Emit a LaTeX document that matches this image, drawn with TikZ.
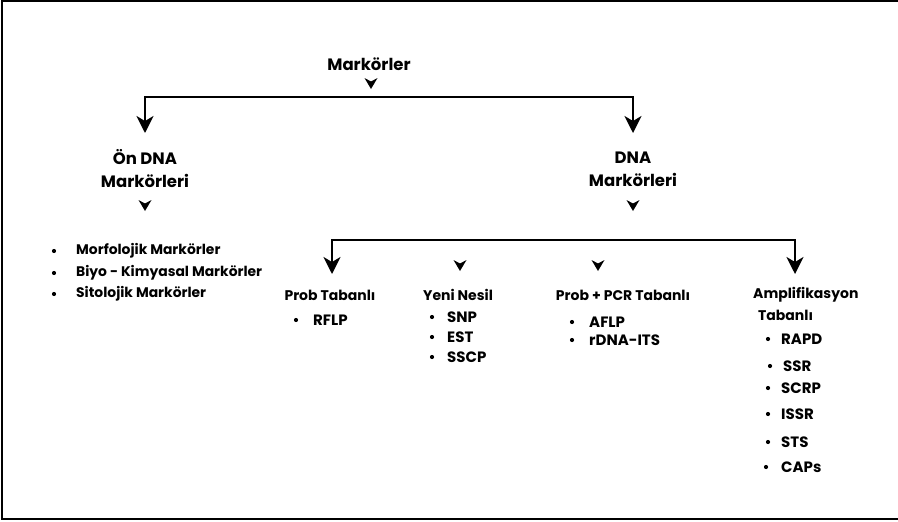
\documentclass[tikz,border=0pt]{standalone}
\usepackage{fontspec}
\setmainfont{Poppins}
\usetikzlibrary{arrows.meta}
\begin{document}
\begin{tikzpicture}[x=1pt,y=-1pt,
  conn/.style={line width=2pt, >={Stealth[length=17pt,width=17pt,inset=5pt]}},
  top/.style={font=\fontsize{16.5}{23}\selectfont\bfseries, align=center, inner sep=0pt},
  head/.style={font=\fontsize{14}{20}\selectfont\bfseries, align=center, inner sep=0pt},
  item/.style={font=\fontsize{13.9}{15}\selectfont\bfseries, anchor=west, inner sep=0pt},
  code/.style={font=\fontsize{15}{15}\selectfont\bfseries, anchor=west, inner sep=0pt},
  dot/.style={circle, fill, inner sep=0pt, minimum size=4.2pt},
]
\useasboundingbox (0,0) rectangle (898,522);
% frame (open on the right)
\draw[line width=2pt] (898,1) -- (2,1) -- (2,519) -- (898,519);

% small arrowhead marks
\newcommand{\tipmark}[2]{\fill (#1-6.5,#2-11) -- (#1,#2) -- (#1+6.5,#2-11) -- (#1,#2-7.5) -- cycle;}

% top level
\node[top] (root) at (369,64) {Markörler};
\tipmark{371}{89}
\coordinate (rootbar) at (371,97);
\coordinate (onIn) at (145,133);
\coordinate (dnaIn) at (633,133);
\draw[conn, <->] (onIn) |- (rootbar) -| (dnaIn);

\node[top] (on) at (145,169) {Ön DNA\\Markörleri};
\node[top] (dna) at (633,169) {DNA\\Markörleri};
\tipmark{145}{211}
\tipmark{633}{211}

% pre-DNA markers
\foreach \t/\y [count=\i] in {Morfolojik Markörler/251, Biyo - Kimyasal Markörler/273, Sitolojik Markörler/294}{
  \node[dot] (ob\i) at (54,\y) {};
  \node[item] (o\i) at (76,\y) {\t};
}

% DNA marker groups
\coordinate (dnabar) at (633,240);
\coordinate (probIn) at (332,274);
\coordinate (ampIn) at (795,274);
\draw[conn, <->] (probIn) |- (dnabar) -| (ampIn);
\tipmark{460}{271}
\tipmark{598}{271}

\node[head] (prob) at (330,295) {Prob Tabanlı};
\node[head] (yeni) at (458,295) {Yeni Nesil};
\node[head] (pcr) at (623,295) {Prob + PCR Tabanlı};
\node[head, anchor=west] (amp) at (753,295) {Amplifikasyon};
\node[head, anchor=west] (amp2) at (758,315) {Tabanlı};

\node[dot] (rb1) at (296,320) {};
\node[code] (r1) at (313,320) {RFLP};

\foreach \t/\y [count=\i] in {SNP/317, EST/337, SSCP/357}{
  \node[dot] (yb\i) at (432,\y) {};
  \node[code] (y\i) at (447,\y) {\t};
}

\foreach \t/\y [count=\i] in {AFLP/322, rDNA-ITS/340}{
  \node[dot] (pb\i) at (572,\y) {};
  \node[code] (p\i) at (589,\y) {\t};
}

\foreach \t/\y/\bx/\tx [count=\i] in {RAPD/339/768/781, SSR/366/770/783, SCRP/388/768/781, ISSR/414/768/781, STS/442/768/781, CAPs/467/766/781}{
  \node[dot] (ab\i) at (\bx,\y) {};
  \node[code] (a\i) at (\tx,\y) {\t};
}
\end{tikzpicture}
\end{document}
